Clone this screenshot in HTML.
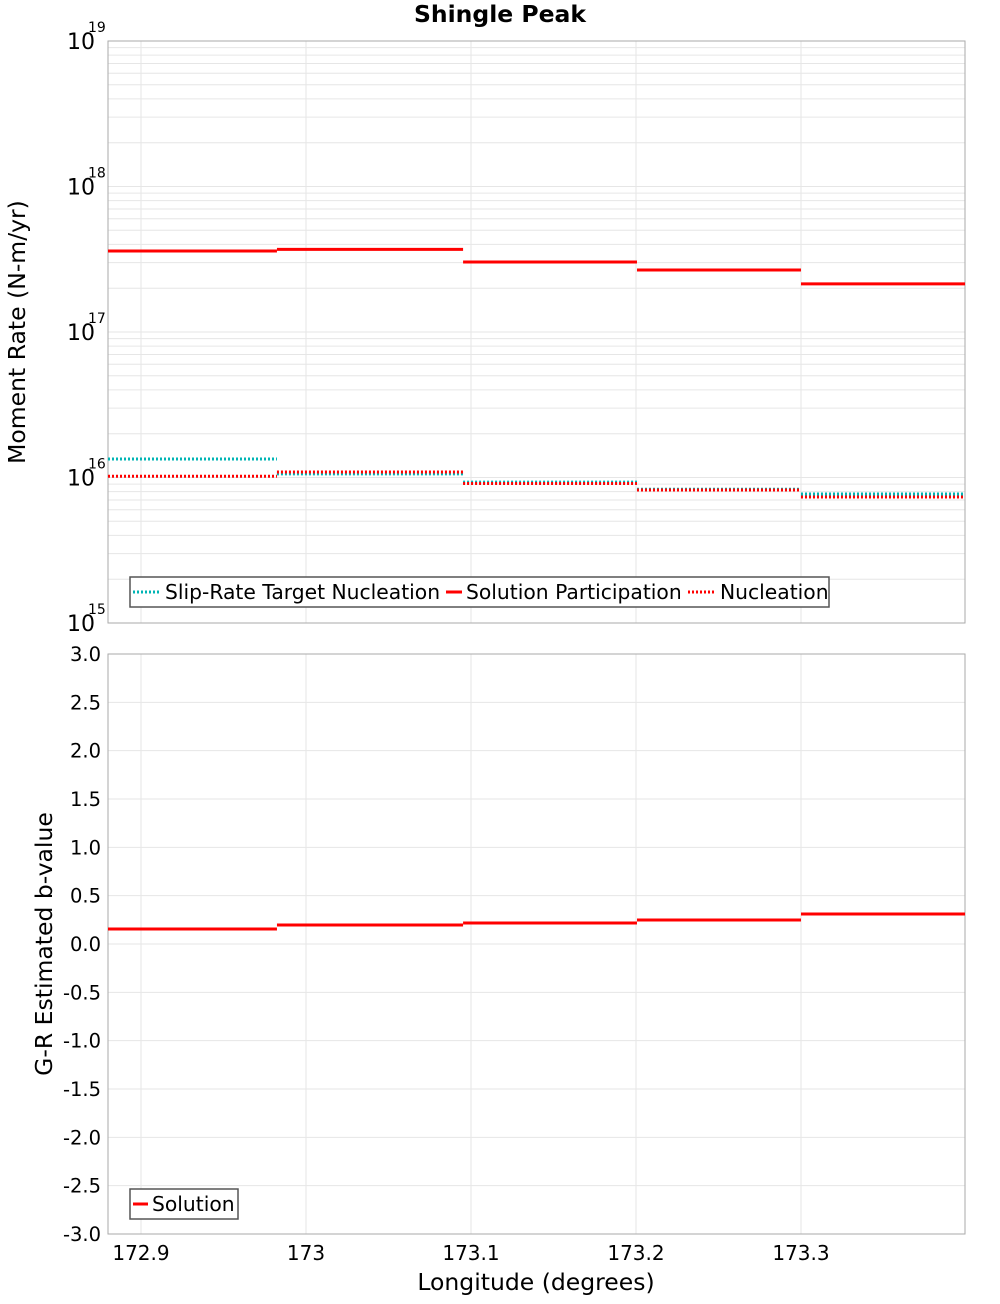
<!DOCTYPE html>
<html><head><meta charset="utf-8"><style>
body{margin:0;background:#fff;font-family:"DejaVu Sans","Liberation Sans",sans-serif}
svg text{font-family:"DejaVu Sans","Liberation Sans",sans-serif}
</style></head><body>
<svg id="c" width="1000" height="1300" xmlns="http://www.w3.org/2000/svg"></svg>
<script>
const segLon=[172.88,172.9824,173.0952,173.2006,173.3,173.3994];
const participation=[3.6e17,3.7e17,3.03e17,2.67e17,2.14e17];
const targetNucl=[1.34e16,1.06e16,9.3e15,8.3e15,7.7e15];
const nucleation=[1.02e16,1.09e16,9.1e15,8.2e15,7.35e15];
const bValues=[0.155,0.197,0.217,0.248,0.31];
const xTicks=[172.9,173.0,173.1,173.2,173.3];
const xTickLabels=["172.9","173","173.1","173.2","173.3"];
const logTicks=[15,16,17,18,19];
const bTicks=[-3,-2.5,-2,-1.5,-1,-0.5,0,0.5,1,1.5,2,2.5,3];

const svg=document.getElementById('c');
const NS='http://www.w3.org/2000/svg';
function mk(tag,attrs,parent){const e=document.createElementNS(NS,tag);for(const k in attrs)e.setAttribute(k,attrs[k]);(parent||svg).appendChild(e);return e;}
const L=108,R=965,T1=41,B1=623,T2=654,B2=1234;
const xs=v=>L+(v-172.88)/(173.3994-172.88)*(R-L);
const y1=v=>B1-(Math.log10(v)-15)/4*(B1-T1);
const y2=v=>B2-(v+3)/6*(B2-T2);

let t=mk('text',{x:500,y:22,'text-anchor':'middle','font-size':23.5,'font-weight':'bold'});t.textContent='Shingle Peak';


const g1=mk('g',{});
for(let d=15;d<19;d++)for(let m=1;m<=9;m++){const yy=y1(m*Math.pow(10,d));mk('line',{x1:L,x2:R,y1:yy,y2:yy,stroke:'#e6e6e6','stroke-width':1},g1);}
const g2=mk('g',{});
bTicks.forEach(b=>{const yy=y2(b);mk('line',{x1:L,x2:R,y1:yy,y2:yy,stroke:'#e6e6e6'},g2);});
xTicks.forEach(v=>{const xx=xs(v);mk('line',{x1:xx,x2:xx,y1:T1,y2:B1,stroke:'#e6e6e6'},g1);mk('line',{x1:xx,x2:xx,y1:T2,y2:B2,stroke:'#e6e6e6'},g2);});

let f=mk('rect',{x:L,y:T1,width:R-L,height:B1-T1,fill:'none',stroke:'#aaa'});
f=mk('rect',{x:L,y:T2,width:R-L,height:B2-T2,fill:'none',stroke:'#aaa'});

logTicks.forEach(e=>{const yy=y1(Math.pow(10,e));
 const tx=mk('text',{x:95,y:yy+8,'text-anchor':'end','font-size':22});tx.textContent='10';
 
 const sp=mk('text',{x:88,y:yy-9,'font-size':14});sp.textContent=String(e);
 });
bTicks.forEach(b=>{const yy=y2(b);const tx=mk('text',{x:101,y:yy+7,'text-anchor':'end','font-size':19.5});tx.textContent=b.toFixed(1);
 });
xTicks.forEach((v,i)=>{const tx=mk('text',{x:xs(v),y:1260,'text-anchor':'middle','font-size':20});tx.textContent=xTickLabels[i];
 });

t=mk('text',{x:0,y:0,'text-anchor':'middle','font-size':23.5,transform:'translate(25,332) rotate(-90)'});t.textContent='Moment Rate (N-m/yr)';

t=mk('text',{x:0,y:0,'text-anchor':'middle','font-size':23.5,transform:'translate(52,944) rotate(-90)'});t.textContent='G-R Estimated b-value';

t=mk('text',{x:536,y:1290,'text-anchor':'middle','font-size':23.5});t.textContent='Longitude (degrees)';


function steps(vals,yf,color,dash,name){const g=mk('g',{});
 vals.forEach((v,i)=>{const a={x1:xs(segLon[i]),x2:xs(segLon[i+1]),y1:yf(v),y2:yf(v),stroke:color,'stroke-width':3};if(dash)a['stroke-dasharray']='2,2';
 const l=mk('line',a,g);});}
steps(participation,y1,'#ff0000',null,'solution-participation-series');
steps(targetNucl,y1,'#00b4b4','2,2','slip-rate-target-nucleation-series');
steps(nucleation,y1,'#ff0000','2,2','nucleation-series');
steps(bValues,y2,'#ff0000',null,'b-value-solution-series');

function legend(x,y,w,items,name){const g=mk('g',{});
 mk('rect',{x:x,y:y,width:w,height:30,fill:'#fff',stroke:'#555','stroke-width':1.5},g);
 items.forEach(it=>{const a={x1:it.x,x2:it.x+it.lw,y1:y+15,y2:y+15,stroke:it.c,'stroke-width':3};if(it.d)a['stroke-dasharray']='2,2';mk('line',a,g);
 const tx=mk('text',{x:it.x+it.lw+4,y:y+22,'font-size':20.3},g);tx.textContent=it.t;});}
legend(130,577,699,[{x:133,lw:28,c:'#00b4b4',d:1,t:'Slip-Rate Target Nucleation'},{x:446,lw:16,c:'#ff0000',d:0,t:'Solution Participation'},{x:688,lw:28,c:'#ff0000',d:1,t:'Nucleation'}],'top-legend');
legend(130,1189,108,[{x:133,lw:15,c:'#ff0000',d:0,t:'Solution'}],'bottom-legend');
</script></body></html>
